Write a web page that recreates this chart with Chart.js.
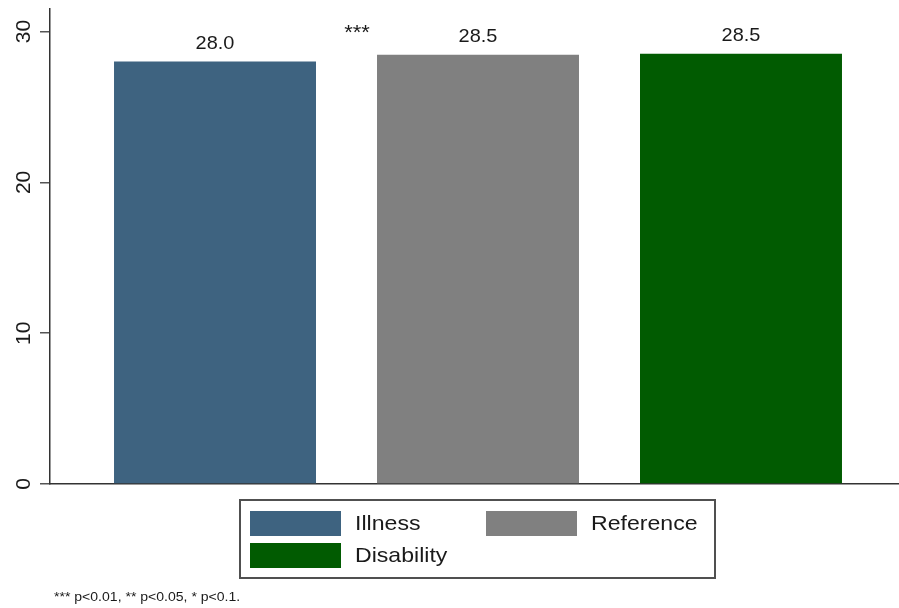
<!DOCTYPE html>
<html>
<head>
<meta charset="utf-8">
<script src="https://cdn.jsdelivr.net/npm/chart.js@4.4.1/dist/chart.umd.min.js"></script>
<style>
    html, body { margin: 0; padding: 0; background: #fff; }
    #wrap { width: 899px; height: 608px; position: relative; overflow: hidden; }
</style>
</head>
<body>
<div id="wrap"><canvas id="chart" width="907" height="608"></canvas></div>
<script>
// Chart data
const groups = ['Illness', 'Reference', 'Disability'];
const values = [28.02, 28.46, 28.54];
const groupColors = ['#3e6380', '#808080', '#015b01'];
const yTicks = [0, 10, 20, 30];
const sigMark = '***';
const footnote = '*** p<0.01, ** p<0.05, * p<0.1.';

const FONT = "'Liberation Sans', Arial, sans-serif";

// text slightly stretched sideways, like the exported original
function wideText(ctx, text, x, y, sx) {
    ctx.save();
    ctx.translate(x, y);
    ctx.scale(sx, 1);
    ctx.fillText(text, 0, 0);
    ctx.restore();
}

// value labels, significance stars, rotated y labels, legend box, note
const decorPlugin = {
    id: 'decor',
    afterDatasetsDraw(chart) {
        const ctx = chart.ctx;
        ctx.save();
        ctx.fillStyle = '#1a1a1a';
        ctx.font = '19px ' + FONT;
        ctx.textAlign = 'center';
        ctx.textBaseline = 'middle';
        chart.data.datasets.forEach((ds, i) => {
            const bar = chart.getDatasetMeta(i).data[0];
            wideText(ctx, ds.data[0].toFixed(1), bar.x, bar.y - 18, 1.05);
        });

        // stars between first and second bar
        const b1 = chart.getDatasetMeta(1).data[0];
        const y = chart.scales.y;
        ctx.font = '20px ' + FONT;
        wideText(ctx, sigMark, b1.x - b1.width / 2 - 20, y.getPixelForValue(29.9), 1.1);
        ctx.restore();
    },
    afterDraw(chart) {
        const ctx = chart.ctx;
        const y = chart.scales.y;
        ctx.save();

        // y tick labels, rotated like the original
        ctx.fillStyle = '#1a1a1a';
        ctx.font = '21px ' + FONT;
        ctx.textAlign = 'center';
        ctx.textBaseline = 'middle';
        yTicks.forEach(v => {
            ctx.save();
            ctx.translate(24, y.getPixelForValue(v));
            ctx.rotate(-Math.PI / 2);
            ctx.fillText(String(v), 0, 0);
            ctx.restore();
        });

        // legend box
        ctx.strokeStyle = '#505050';
        ctx.lineWidth = 2;
        ctx.strokeRect(240, 500, 475, 78);
        const slots = [
            { x: 250, y: 511 },
            { x: 486, y: 511 },
            { x: 250, y: 543 }
        ];
        ctx.font = '21px ' + FONT;
        ctx.textAlign = 'left';
        chart.data.datasets.forEach((ds, i) => {
            const s = slots[i];
            ctx.fillStyle = ds.backgroundColor;
            ctx.fillRect(s.x, s.y, 91, 25);
            ctx.fillStyle = '#1a1a1a';
            wideText(ctx, ds.label, s.x + 105, s.y + 13, 1.1);
        });

        // footnote
        ctx.font = '12px ' + FONT;
        wideText(ctx, footnote, 54, 598, 1.17);
        ctx.restore();
    }
};

const ctx = document.getElementById('chart').getContext('2d');
new Chart(ctx, {
    type: 'bar',
    data: {
        labels: [''],
        datasets: groups.map((g, i) => ({
            label: g,
            data: [values[i]],
            backgroundColor: groupColors[i],
            borderWidth: 0
        }))
    },
    options: {
        responsive: false,
        animation: false,
        categoryPercentage: 0.9217,
        barPercentage: 0.768,
        layout: { padding: { top: 9, right: 1, bottom: 124, left: 0 } },
        plugins: {
            legend: { display: false },
            tooltip: { enabled: false }
        },
        scales: {
            x: {
                grid: { display: false },
                ticks: { display: false },
                border: { display: true, color: '#333', width: 1.5 },
                afterFit(scale) { scale.height = 0; }
            },
            y: {
                min: 0,
                max: 31.5,
                grid: {
                    drawOnChartArea: false,
                    drawTicks: true,
                    tickLength: 10,
                    color: '#555',
                    lineWidth: 1.5
                },
                ticks: { display: false },
                border: { display: true, color: '#333', width: 1.5 },
                afterBuildTicks(scale) {
                    scale.ticks = yTicks.map(v => ({ value: v }));
                },
                afterFit(scale) { scale.width = 50; }
            }
        }
    },
    plugins: [decorPlugin]
});
</script>
</body>
</html>
